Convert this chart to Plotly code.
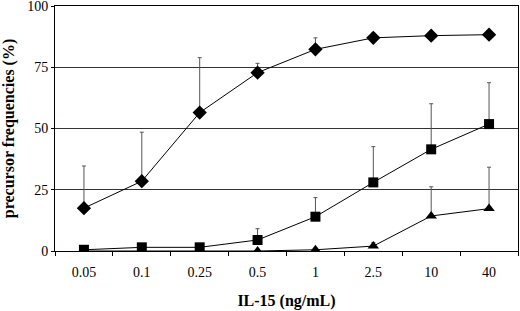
import plotly.graph_objects as go

categories = ["0.05", "0.1", "0.25", "0.5", "1", "2.5", "10", "40"]

diamond_vals = [17.5, 28.5, 56.5, 72.8, 82.3, 87.0, 87.9, 88.3]
diamond_err = [17.2, 20.0, 22.4, 3.8, 4.7, 2.0, 0.8, 1.0]

square_vals = [0.5, 1.5, 1.5, 4.5, 14.0, 28.0, 41.5, 51.8]
square_err = [0.0, 0.0, 0.0, 4.6, 7.8, 14.6, 18.6, 16.9]

triangle_vals = [0.0, 0.0, 0.0, 0.0, 0.5, 2.0, 14.3, 17.3]
triangle_err = [0.0, 0.0, 0.0, 0.0, 0.0, 1.5, 11.9, 16.9]

y_ticks = [0, 25, 50, 75, 100]

fig = go.Figure()

def add_series(vals, errs, symbol, size):
    fig.add_trace(go.Scatter(
        x=categories, y=vals, mode="lines+markers",
        line=dict(color="black", width=1),
        marker=dict(symbol=symbol, size=size, color="black"),
        error_y=dict(type="data", symmetric=False, array=errs,
                     arrayminus=[0] * len(errs), color="#555555",
                     thickness=1, width=2),
        showlegend=False,
    ))

add_series(triangle_vals, triangle_err, "triangle-up", 10)
add_series(square_vals, square_err, "square", 10)
add_series(diamond_vals, diamond_err, "diamond", 11)

font_family = "Liberation Serif, Times New Roman, serif"

fig.update_layout(
    width=520, height=311,
    margin=dict(l=55, r=2, t=6, b=60),
    paper_bgcolor="white", plot_bgcolor="white",
    font=dict(family=font_family, size=14, color="black"),
    xaxis=dict(
        type="category", range=[-0.5, 7.5], automargin=False,
        showline=True, linecolor="black", linewidth=1, mirror=True,
        showgrid=False, ticks="outside", ticklen=4, tickcolor="black",
        tickson="boundaries", ticklabelstandoff=8,
        title=dict(text="<b>IL-15 (ng/mL)</b>", font=dict(size=16, family=font_family), standoff=16),
        tickfont=dict(size=14),
    ),
    yaxis=dict(
        range=[0, 100], tickvals=y_ticks, automargin=False,
        ticklabeloverflow="allow",
        showline=True, linecolor="black", linewidth=1, mirror=True,
        showgrid=True, gridcolor="#333333", gridwidth=1,
        ticks="outside", ticklen=3, tickcolor="black",
        zeroline=False,
        title=dict(text="<b>precursor frequencies (%)</b>", font=dict(size=16, family=font_family), standoff=8),
        tickfont=dict(size=14),
    ),
)

fig.write_html("out.html", config={"displayModeBar": False},
               post_script="document.body.style.margin='0';")
